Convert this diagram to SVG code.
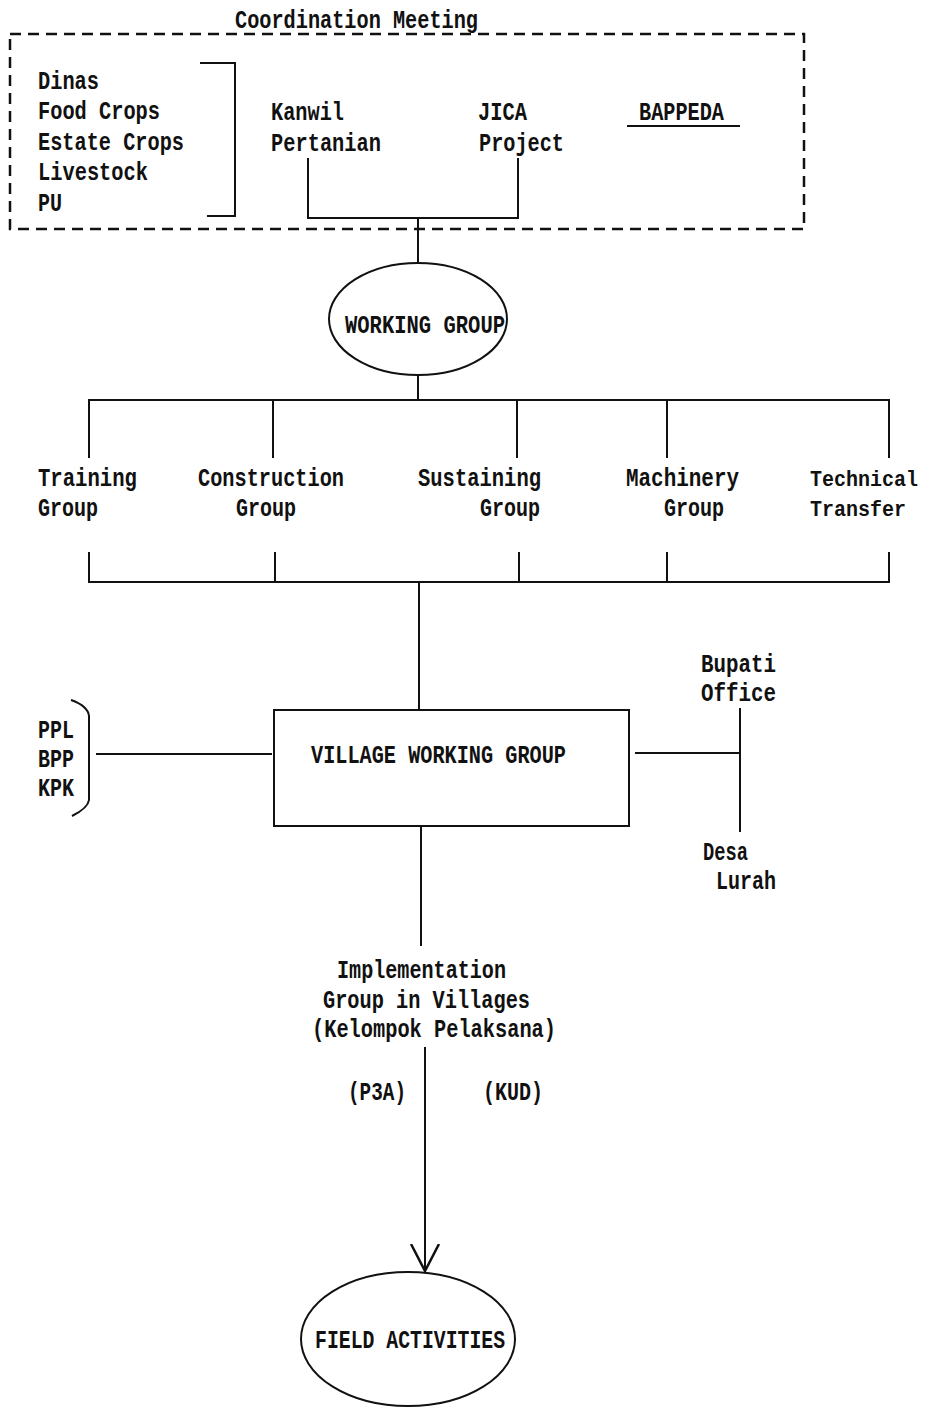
<svg xmlns="http://www.w3.org/2000/svg" width="929" height="1408" viewBox="0 0 929 1408">
<style>
text{font-family:"Liberation Mono","DejaVu Sans Mono",monospace;font-size:26px;font-weight:bold;fill:#111;}
text.edge{font-size:22px;}
.ln{stroke:#111;stroke-width:2;fill:none;}
.dash{stroke:#111;stroke-width:2.5;fill:none;stroke-dasharray:11 7;}
</style>
<defs>
<marker id="vee" markerWidth="32" markerHeight="32" refX="27" refY="15" orient="auto" markerUnits="userSpaceOnUse">
<path d="M0,1 L27,15 L0,29" fill="none" stroke="#111" stroke-width="2.5"/>
</marker>
</defs>
<rect width="929" height="1408" fill="#fff"/>

<g id="coordination-meeting">
<rect class="dash" x="10" y="34" width="794" height="195"/>
<text x="235" y="28" textLength="243" lengthAdjust="spacingAndGlyphs">Coordination Meeting</text>
</g>
<g id="dinas">
<text x="38" y="89" textLength="61" lengthAdjust="spacingAndGlyphs">Dinas</text>
<text x="38" y="119" textLength="122" lengthAdjust="spacingAndGlyphs">Food Crops</text>
<text x="38" y="150" textLength="146" lengthAdjust="spacingAndGlyphs">Estate Crops</text>
<text x="38" y="180" textLength="110" lengthAdjust="spacingAndGlyphs">Livestock</text>
<text x="38" y="211" textLength="24" lengthAdjust="spacingAndGlyphs">PU</text>
<path class="ln" d="M200,63 H235 V216 H207"/>
</g>
<g id="kanwil">
<text x="271" y="120" textLength="73" lengthAdjust="spacingAndGlyphs">Kanwil</text>
<text x="271" y="151" textLength="110" lengthAdjust="spacingAndGlyphs">Pertanian</text>
</g>
<g id="jica">
<text x="478" y="120" textLength="49" lengthAdjust="spacingAndGlyphs">JICA</text>
<text x="479" y="151" textLength="85" lengthAdjust="spacingAndGlyphs">Project</text>
</g>
<g id="bappeda">
<text x="639" y="120" textLength="85" lengthAdjust="spacingAndGlyphs">BAPPEDA</text>
<line class="ln" x1="627" y1="126" x2="740" y2="126"/>
</g>
<g id="working-group">
<ellipse class="ln" cx="418" cy="319" rx="89" ry="56" stroke-width="2.5"/>
<text x="345" y="333" textLength="160" lengthAdjust="spacingAndGlyphs">WORKING GROUP</text>
</g>
<g id="training-group">
<text x="38" y="486" textLength="99" lengthAdjust="spacingAndGlyphs">Training</text>
<text x="38" y="516" textLength="60" lengthAdjust="spacingAndGlyphs">Group</text>
</g>
<g id="construction-group">
<text x="198" y="486" textLength="146" lengthAdjust="spacingAndGlyphs">Construction</text>
<text x="236" y="516" textLength="60" lengthAdjust="spacingAndGlyphs">Group</text>
</g>
<g id="sustaining-group">
<text x="418" y="486" textLength="123" lengthAdjust="spacingAndGlyphs">Sustaining</text>
<text x="480" y="516" textLength="60" lengthAdjust="spacingAndGlyphs">Group</text>
</g>
<g id="machinery-group">
<text x="626" y="486" textLength="113" lengthAdjust="spacingAndGlyphs">Machinery</text>
<text x="664" y="516" textLength="60" lengthAdjust="spacingAndGlyphs">Group</text>
</g>
<g id="technical-transfer">
<text class="edge" x="810" y="486" textLength="108" lengthAdjust="spacingAndGlyphs">Technical</text>
<text class="edge" x="810" y="516" textLength="96" lengthAdjust="spacingAndGlyphs">Transfer</text>
</g>
<g id="ppl-bpp-kpk">
<text x="38" y="738" textLength="36" lengthAdjust="spacingAndGlyphs">PPL</text>
<text x="38" y="767" textLength="36" lengthAdjust="spacingAndGlyphs">BPP</text>
<text x="38" y="796" textLength="36" lengthAdjust="spacingAndGlyphs">KPK</text>
<path class="ln" d="M71,700 Q88,706 89,716 V800 Q88,808 72,816"/>
</g>
<g id="village-working-group">
<rect class="ln" x="274" y="710" width="355" height="116"/>
<text x="311" y="763" textLength="255" lengthAdjust="spacingAndGlyphs">VILLAGE WORKING GROUP</text>
</g>
<g id="bupati-office">
<text x="701" y="672" textLength="75" lengthAdjust="spacingAndGlyphs">Bupati</text>
<text x="701" y="701" textLength="75" lengthAdjust="spacingAndGlyphs">Office</text>
</g>
<g id="desa-lurah">
<text x="703" y="860" textLength="45" lengthAdjust="spacingAndGlyphs">Desa</text>
<text x="716" y="889" textLength="60" lengthAdjust="spacingAndGlyphs">Lurah</text>
</g>
<g id="implementation-group">
<text x="337" y="978" textLength="169" lengthAdjust="spacingAndGlyphs">Implementation</text>
<text x="323" y="1008" textLength="207" lengthAdjust="spacingAndGlyphs">Group in Villages</text>
<text x="312" y="1037" textLength="244" lengthAdjust="spacingAndGlyphs">(Kelompok Pelaksana)</text>
</g>
<g id="field-activities">
<ellipse class="ln" cx="408" cy="1339" rx="107" ry="67" stroke-width="2.5"/>
<text x="315" y="1348" textLength="190" lengthAdjust="spacingAndGlyphs">FIELD ACTIVITIES</text>
</g>

<g id="connectors">
<path class="ln" d="M308,158 V218 H518 V158"/>
<line class="ln" x1="418" y1="218" x2="418" y2="263"/>
<line class="ln" x1="418" y1="375" x2="418" y2="400"/>
<path class="ln" d="M89,458 V400 H889 V458"/>
<line class="ln" x1="273" y1="400" x2="273" y2="458"/>
<line class="ln" x1="517" y1="400" x2="517" y2="458"/>
<line class="ln" x1="667" y1="400" x2="667" y2="458"/>
<path class="ln" d="M89,552 V582 H889 V552"/>
<line class="ln" x1="275" y1="552" x2="275" y2="582"/>
<line class="ln" x1="519" y1="552" x2="519" y2="582"/>
<line class="ln" x1="667" y1="552" x2="667" y2="582"/>
<line class="ln" x1="419" y1="582" x2="419" y2="710"/>
<line class="ln" x1="96" y1="754" x2="272" y2="754"/>
<line class="ln" x1="635" y1="753" x2="740" y2="753"/>
<line class="ln" x1="740" y1="708" x2="740" y2="832"/>
<line class="ln" x1="421" y1="826" x2="421" y2="946"/>
<line class="ln" x1="425" y1="1047" x2="425" y2="1271" marker-end="url(#vee)"/>
<text x="348" y="1100" textLength="58" lengthAdjust="spacingAndGlyphs">(P3A)</text>
<text x="483" y="1100" textLength="60" lengthAdjust="spacingAndGlyphs">(KUD)</text>
</g>
</svg>
